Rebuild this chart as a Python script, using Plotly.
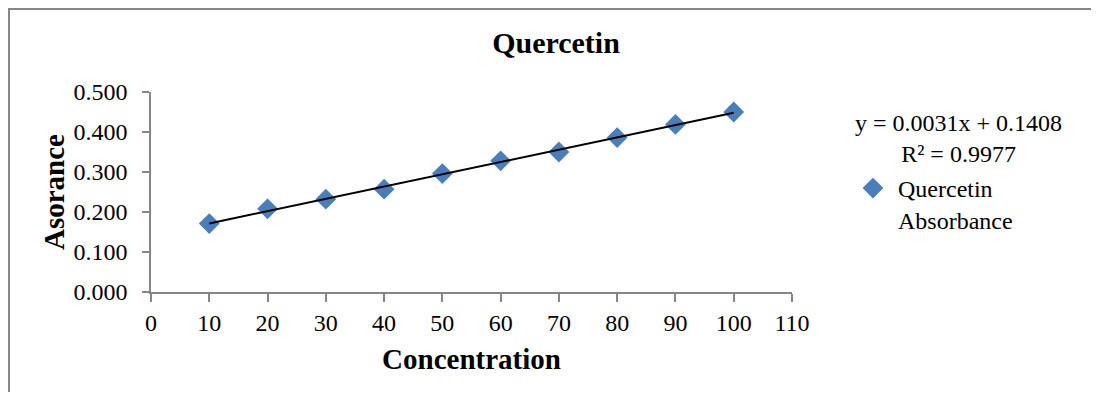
import numpy as np
import plotly.graph_objects as go

concentration = [10, 20, 30, 40, 50, 60, 70, 80, 90, 100]
absorbance = [0.171, 0.208, 0.232, 0.257, 0.296, 0.328, 0.350, 0.386, 0.419, 0.450]
equation_text = "y = 0.0031x + 0.1408<br>R² = 0.9977"

# page body has an 8px margin on every side, so work in reference pixels
# and shift; keep the figure small enough to avoid scrollbars
OFF = 8
W, H = 1099 - 2 * OFF, 400 - 2 * OFF
L, T = 151 - OFF, 92 - OFF
pw, ph = 641, 200
R, B = W - L - pw, H - T - ph


def px_x(p):
    return (p - OFF - L) / pw


def px_y(p):
    return (H - B - (p - OFF)) / ph


z = np.polyfit(concentration, absorbance, 1)
trend_x = np.array([min(concentration), max(concentration)])
trend_y = np.poly1d(z)(trend_x)

font_family = "Liberation Serif, Times New Roman, serif"
axis_color = "#868686"

fig = go.Figure()

fig.add_trace(go.Scatter(
    x=concentration,
    y=absorbance,
    mode="markers",
    name="Quercetin<br>Absorbance",
    marker=dict(symbol="diamond", size=16, color="#4A7EBB"),
))

fig.add_trace(go.Scatter(
    x=trend_x,
    y=trend_y,
    mode="lines",
    line=dict(color="black", width=2),
    showlegend=False,
    hoverinfo="skip",
))

fig.update_layout(
    width=W,
    height=H,
    margin=dict(l=L, r=R, t=T, b=B),
    plot_bgcolor="white",
    paper_bgcolor="white",
    font=dict(family=font_family, size=24, color="black"),
    title=dict(
        text="<b>Quercetin</b>",
        font=dict(size=30),
        xref="container", x=(556 - OFF) / W, xanchor="center",
        yref="container", y=1 - (42 - OFF) / H, yanchor="middle",
    ),
    xaxis=dict(
        range=[0, 110], dtick=10, tick0=0,
        showline=True, linecolor=axis_color, linewidth=1.5,
        ticks="outside", ticklen=8, tickcolor=axis_color, tickwidth=1.5,
        showgrid=False, zeroline=False,
        title=dict(text="<b>Concentration</b>", standoff=14),
    ),
    yaxis=dict(
        range=[0, 0.5], dtick=0.1, tick0=0, tickformat=".3f",
        showline=True, linecolor=axis_color, linewidth=1.5,
        ticks="outside", ticklen=7, tickcolor=axis_color, tickwidth=1.5,
        showgrid=False, zeroline=False,
        ticklabelstandoff=10,
        title=dict(text="<b>Asorance</b>", standoff=0),
    ),
    legend=dict(
        x=px_x(848), y=px_y(166), xanchor="left", yanchor="top",
        itemwidth=40, valign="top", bgcolor="rgba(0,0,0,0)",
    ),
    showlegend=True,
)

fig.add_annotation(
    text=equation_text,
    xref="paper", yref="paper",
    x=px_x(958), y=px_y(138), xanchor="center", yanchor="middle",
    showarrow=False, align="center",
)

# chart border: only the left and top edges show in the frame
bx0, bx1 = px_x(OFF + 1), px_x(OFF + W)
by0, by1 = px_y(OFF + H), px_y(OFF + 1)
fig.add_shape(
    type="path", xref="paper", yref="paper",
    path=f"M {bx0},{by0} L {bx0},{by1} L {bx1},{by1}",
    line=dict(color=axis_color, width=2), layer="below",
)

fig.write_html("out.html")
